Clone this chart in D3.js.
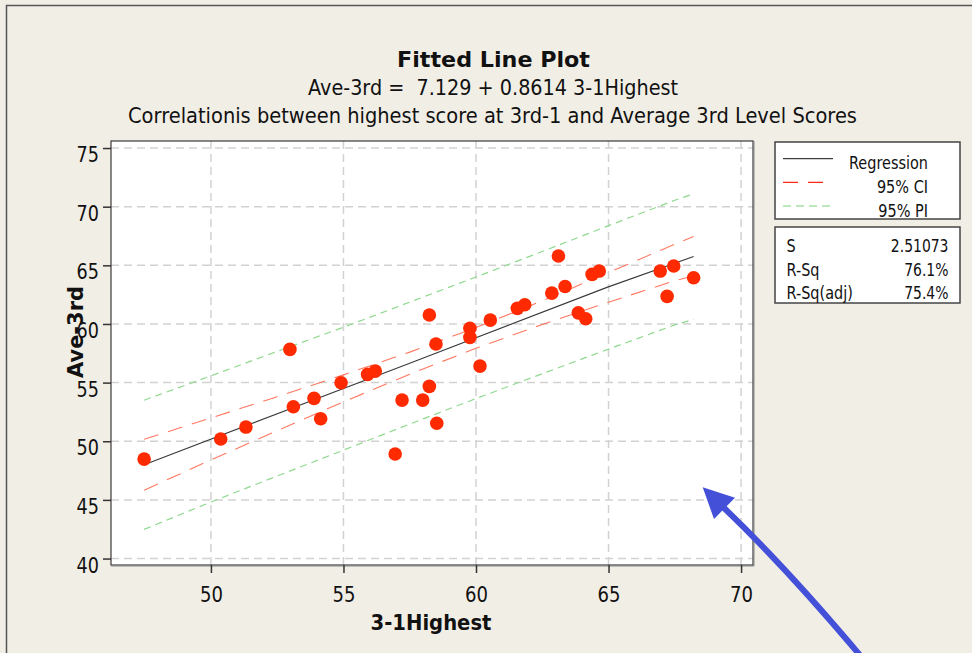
<!DOCTYPE html>
<html>
<head>
<meta charset="utf-8">
<script src="https://cdn.jsdelivr.net/npm/d3@7"></script>
<style>
  html, body { margin: 0; padding: 0; background: #f1eee6; }
  svg { display: block; }
  text { font-family: "DejaVu Sans", Verdana, sans-serif; fill: #111; }
</style>
</head>
<body>
<svg id="chart" width="972" height="653"></svg>
<script>
// Fitted line plot: Ave-3rd vs 3-1Highest with 95% CI / PI bands

// observed points
const xHighest = [47.48, 50.37, 51.32, 52.98, 53.11, 53.89, 54.14, 54.91, 55.91, 56.20,
  56.95, 57.21, 57.99, 58.24, 58.52, 58.49, 60.15, 58.24, 59.77, 59.77,
  60.54, 61.56, 61.84, 62.86, 63.11, 63.36, 63.86, 64.14, 64.38, 64.65,
  66.95, 67.46, 67.21, 68.21];
const yAve3rd = [48.48, 50.19, 51.21, 57.83, 52.94, 53.66, 51.92, 54.99, 55.70, 55.98,
  48.91, 53.51, 53.51, 54.68, 51.53, 58.29, 56.41, 60.76, 59.63, 58.86,
  60.33, 61.33, 61.64, 62.63, 65.79, 63.20, 60.95, 60.44, 64.23, 64.51,
  64.51, 64.94, 62.35, 63.94];

// regression line as drawn
const fitX = [47.48, 57.5, 64.94, 68.21];
const fitY = [48.0, 56.66, 63.12, 65.75];

// confidence / prediction bands read at these x positions
const bandX = [47.48, 50, 52.5, 55, 57.5, 60, 62.5, 65, 67.5, 68.21];
const ciUpper = [50.17, 51.99, 53.80, 55.66, 57.60, 59.69, 61.97, 64.38, 66.80, 67.45];
const ciLower = [45.83, 48.41, 50.90, 53.36, 55.72, 57.93, 59.96, 61.86, 63.69, 64.10];
const piUpper = [53.50, 55.58, 57.66, 59.72, 61.86, 64.00, 66.18, 68.38, 70.55, 71.10];
const piLower = [42.49, 44.82, 47.04, 49.24, 51.47, 53.64, 55.76, 57.86, 59.92, 60.40];

const xTicks = [50, 55, 60, 65, 70];
const yTicks = [40, 45, 50, 55, 60, 65, 70, 75];

const legendItems = ["Regression", "95% CI", "95% PI"];
const statLabels = ["S", "R-Sq", "R-Sq(adj)"];
const statValues = ["2.51073", "76.1%", "75.4%"];

const COLOR_POINT = "#ff2a00";
const COLOR_FIT = "#3a3a3a";
const COLOR_CI = "#ff4a2a";
const COLOR_PI = "#8fd98f";
const COLOR_GRID = "#d2d2d2";
const COLOR_ARROW = "#4450d8";

const plot = { left: 111, top: 141, right: 753, bottom: 565 };

const svg = d3.select("#chart");

// squeeze text horizontally so DejaVu looks closer to the narrower original face
const squeeze = (sel, k) => sel.each(function() {
  const w = this.getComputedTextLength();
  d3.select(this).attr("textLength", w * k).attr("lengthAdjust", "spacingAndGlyphs");
});
const fitWidth = (sel, w) => sel.attr("textLength", w).attr("lengthAdjust", "spacingAndGlyphs");

// page frame
svg.append("rect")
  .attr("x", 6.5).attr("y", 5.5)
  .attr("width", 1000).attr("height", 700)
  .attr("fill", "#f1eee6")
  .attr("stroke", "#555").attr("stroke-width", 1.5);

const x = d3.scaleLinear().domain([46.23, 70.45]).range([plot.left, plot.right]);
const y = d3.scaleLinear().domain([39.45, 75.6]).range([plot.bottom, plot.top]);

// plot background
svg.append("rect")
  .attr("x", plot.left).attr("y", plot.top)
  .attr("width", plot.right - plot.left).attr("height", plot.bottom - plot.top)
  .attr("fill", "#fff");

// gridlines
const gridG = svg.append("g").attr("class", "grid")
  .attr("stroke", COLOR_GRID).attr("stroke-width", 1.5).attr("stroke-dasharray", "8,5");
gridG.selectAll("line.v").data(xTicks).join("line").attr("class", "v")
  .attr("x1", (d) => x(d)).attr("x2", (d) => x(d))
  .attr("y1", plot.top).attr("y2", plot.bottom);
gridG.selectAll("line.h").data(yTicks).join("line").attr("class", "h")
  .attr("x1", plot.left).attr("x2", plot.right)
  .attr("y1", (d) => y(d)).attr("y2", (d) => y(d));

// bands and fit
const lineGen = (ys) => d3.line()
  .x((d, i) => x(bandX[i]))
  .y((d) => y(d))(ys);

const bandG = svg.append("g").attr("fill", "none");
[piUpper, piLower].forEach((ys) => {
  bandG.append("path").attr("d", lineGen(ys))
    .attr("stroke", COLOR_PI).attr("stroke-width", 1.2).attr("stroke-dasharray", "7,5");
});
[ciUpper, ciLower].forEach((ys) => {
  bandG.append("path").attr("d", lineGen(ys))
    .attr("stroke", COLOR_CI).attr("stroke-width", 1.1).attr("stroke-opacity", 0.75)
    .attr("stroke-dasharray", "15,10");
});
bandG.append("path")
  .attr("d", d3.line().x((d, i) => x(fitX[i])).y((d) => y(d))(fitY))
  .attr("stroke", COLOR_FIT).attr("stroke-width", 1.1);

// points
svg.append("g").selectAll("circle")
  .data(xHighest)
  .join("circle")
  .attr("cx", (d) => x(d))
  .attr("cy", (d, i) => y(yAve3rd[i]))
  .attr("r", 6.8)
  .attr("fill", COLOR_POINT);

// frame
svg.append("rect")
  .attr("x", plot.left).attr("y", plot.top)
  .attr("width", plot.right - plot.left).attr("height", plot.bottom - plot.top)
  .attr("fill", "none").attr("stroke", "#3a3a3a").attr("stroke-width", 1.2);
svg.append("path")
  .attr("d", `M${plot.left},${plot.bottom + 1}H${plot.right + 1}V${plot.top}`)
  .attr("fill", "none").attr("stroke", "#888").attr("stroke-width", 1);

// axes
const xAxisG = svg.append("g")
  .attr("transform", `translate(0,${plot.bottom})`)
  .call(d3.axisBottom(x).tickValues(xTicks).tickSize(8).tickSizeOuter(0));
const yAxisG = svg.append("g")
  .attr("transform", `translate(${plot.left},0)`)
  .call(d3.axisLeft(y).tickValues(yTicks).tickSize(8).tickSizeOuter(0));

[xAxisG, yAxisG].forEach((g) => {
  g.select(".domain").remove();
  g.selectAll(".tick line").attr("stroke", "#333").attr("stroke-width", 1.5);
  g.selectAll(".tick text")
    .attr("font-family", "DejaVu Sans").attr("font-size", 22).attr("fill", "#111");
});
xAxisG.selectAll(".tick text").attr("y", 36.5).attr("dy", 0);
yAxisG.selectAll(".tick text").attr("x", -12).attr("y", 13.5).attr("dy", 0);
squeeze(xAxisG.selectAll(".tick text"), 0.82);
squeeze(yAxisG.selectAll(".tick text"), 0.8);

// titles
svg.append("text").attr("x", 493.5).attr("y", 67)
  .attr("text-anchor", "middle").attr("font-size", 22).attr("font-weight", "bold")
  .text("Fitted Line Plot").call(fitWidth, 193);
svg.append("text").attr("x", 493).attr("y", 94.5)
  .attr("text-anchor", "middle").attr("font-size", 21)
  .style("white-space", "pre")
  .text("Ave-3rd =  7.129 + 0.8614 3-1Highest").call(fitWidth, 370);
svg.append("text").attr("x", 492.5).attr("y", 122.5)
  .attr("text-anchor", "middle").attr("font-size", 21)
  .text("Correlationis between highest score at 3rd-1 and Average 3rd Level Scores").call(fitWidth, 729);

// axis titles
svg.append("text").attr("x", 431).attr("y", 630)
  .attr("text-anchor", "middle").attr("font-size", 21).attr("font-weight", "bold")
  .text("3-1Highest").call(fitWidth, 121);
svg.append("text")
  .attr("transform", "translate(83,332) rotate(-90)")
  .attr("text-anchor", "middle").attr("font-size", 22).attr("font-weight", "bold")
  .text("Ave-3rd").call(fitWidth, 92);

// legend box
const legendG = svg.append("g");
legendG.append("rect")
  .attr("x", 775).attr("y", 142).attr("width", 185).attr("height", 77)
  .attr("fill", "#fff").attr("stroke", "#444").attr("stroke-width", 1.5);
const legendStyles = [
  { stroke: "#111", dash: null, w: 1 },
  { stroke: "#ff2a10", dash: "15,10", w: 1.2 },
  { stroke: "#a6e0a6", dash: "8,5", w: 1.5 }
];
const legendRowY = [158.7, 182.3, 206];
legendG.selectAll("line").data(legendItems).join("line")
  .attr("x1", 783).attr("x2", 833)
  .attr("y1", (d, i) => legendRowY[i]).attr("y2", (d, i) => legendRowY[i])
  .attr("stroke", (d, i) => legendStyles[i].stroke)
  .attr("stroke-width", (d, i) => legendStyles[i].w)
  .attr("stroke-dasharray", (d, i) => legendStyles[i].dash);
legendG.selectAll("text").data(legendItems).join("text")
  .attr("x", 928).attr("y", (d, i) => legendRowY[i] + 10.5)
  .attr("text-anchor", "end").attr("font-size", 17)
  .text((d) => d)
  .call(squeeze, 0.85);

// stats box
const statsG = svg.append("g");
statsG.append("rect")
  .attr("x", 775).attr("y", 227).attr("width", 185).attr("height", 76)
  .attr("fill", "#fff").attr("stroke", "#444").attr("stroke-width", 1.5);
const statRowY = [252, 275.5, 299];
statsG.selectAll("text.lab").data(statLabels).join("text").attr("class", "lab")
  .attr("x", 786.5).attr("y", (d, i) => statRowY[i])
  .attr("font-size", 17).text((d) => d)
  .call(squeeze, 0.85);
statsG.selectAll("text.val").data(statValues).join("text").attr("class", "val")
  .attr("x", 948.5).attr("y", (d, i) => statRowY[i])
  .attr("text-anchor", "end").attr("font-size", 17).text((d) => d)
  .call(squeeze, 0.82);

// annotation arrow
const arrowG = svg.append("g");
arrowG.append("path")
  .attr("d", "M864,660 Q787,568 722,506")
  .attr("fill", "none").attr("stroke", COLOR_ARROW).attr("stroke-width", 6);
arrowG.append("path")
  .attr("d", "M702.7,487.3 L735,497.7 L714,519 Z")
  .attr("fill", COLOR_ARROW);
</script>
</body>
</html>
